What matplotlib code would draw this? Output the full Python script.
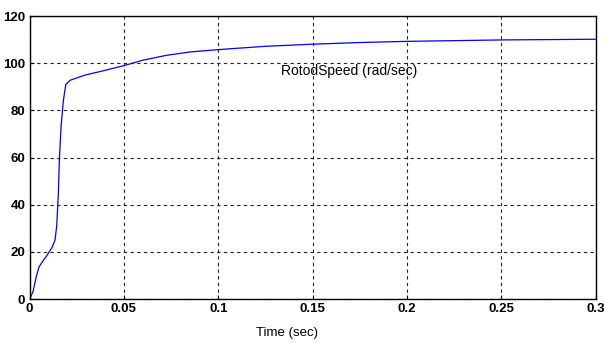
import matplotlib
matplotlib.use('Agg')
import matplotlib.pyplot as plt

# rotor speed
time_s = [0, 0.0018, 0.0035, 0.005, 0.0067, 0.0093, 0.0120, 0.0135, 0.0144, 0.0153,
          0.0158, 0.0167, 0.0179, 0.0192, 0.0215, 0.0294, 0.0374, 0.05, 0.06, 0.0727,
          0.085, 0.1, 0.125, 0.15, 0.175, 0.2, 0.25, 0.3]
speed = [0, 3, 9.3, 13.6, 15.7, 18.6, 22, 25, 31, 45,
         59, 73, 84, 91, 92.8, 95, 96.5, 99, 101.3, 103.4,
         104.8, 105.8, 107.2, 108.1, 108.8, 109.3, 109.9, 110.2]

xticks = [0, 0.05, 0.1, 0.15, 0.2, 0.25, 0.3]
xticklabels = ['0', '0.05', '0.1', '0.15', '0.2', '0.25', '0.3']
yticks = [0, 20, 40, 60, 80, 100, 120]

plt.rcParams['font.family'] = ['Liberation Sans', 'DejaVu Sans']

fig = plt.figure(figsize=(6.05, 3.43), dpi=100, facecolor='white')
ax = fig.add_axes([0.0488, 0.128, 0.936, 0.825])

ax.plot(time_s, speed, color='#0000ff', lw=0.9)

ax.set_xlim(0, 0.3)
ax.set_ylim(0, 120)
ax.set_xticks(xticks)
ax.set_xticklabels(xticklabels)
ax.set_yticks(yticks)
ax.tick_params(direction='in', length=3, labelsize=9.5, pad=3)
for lab in ax.get_xticklabels() + ax.get_yticklabels():
    lab.set_fontweight('bold')

ax.grid(True, color='#222222', linestyle=(0, (3, 3)), linewidth=0.8)
for sp in ax.spines.values():
    sp.set_linewidth(1.0)
    sp.set_color('black')

ax.text(0.1693, 96.6, 'RotodSpeed (rad/sec)', ha='center', va='center', fontsize=10)
fig.text(287 / 605, 1 - 327 / 343, 'Time (sec)', ha='center', va='top', fontsize=9.5)

fig.savefig('out.png', dpi=100, facecolor='white')
